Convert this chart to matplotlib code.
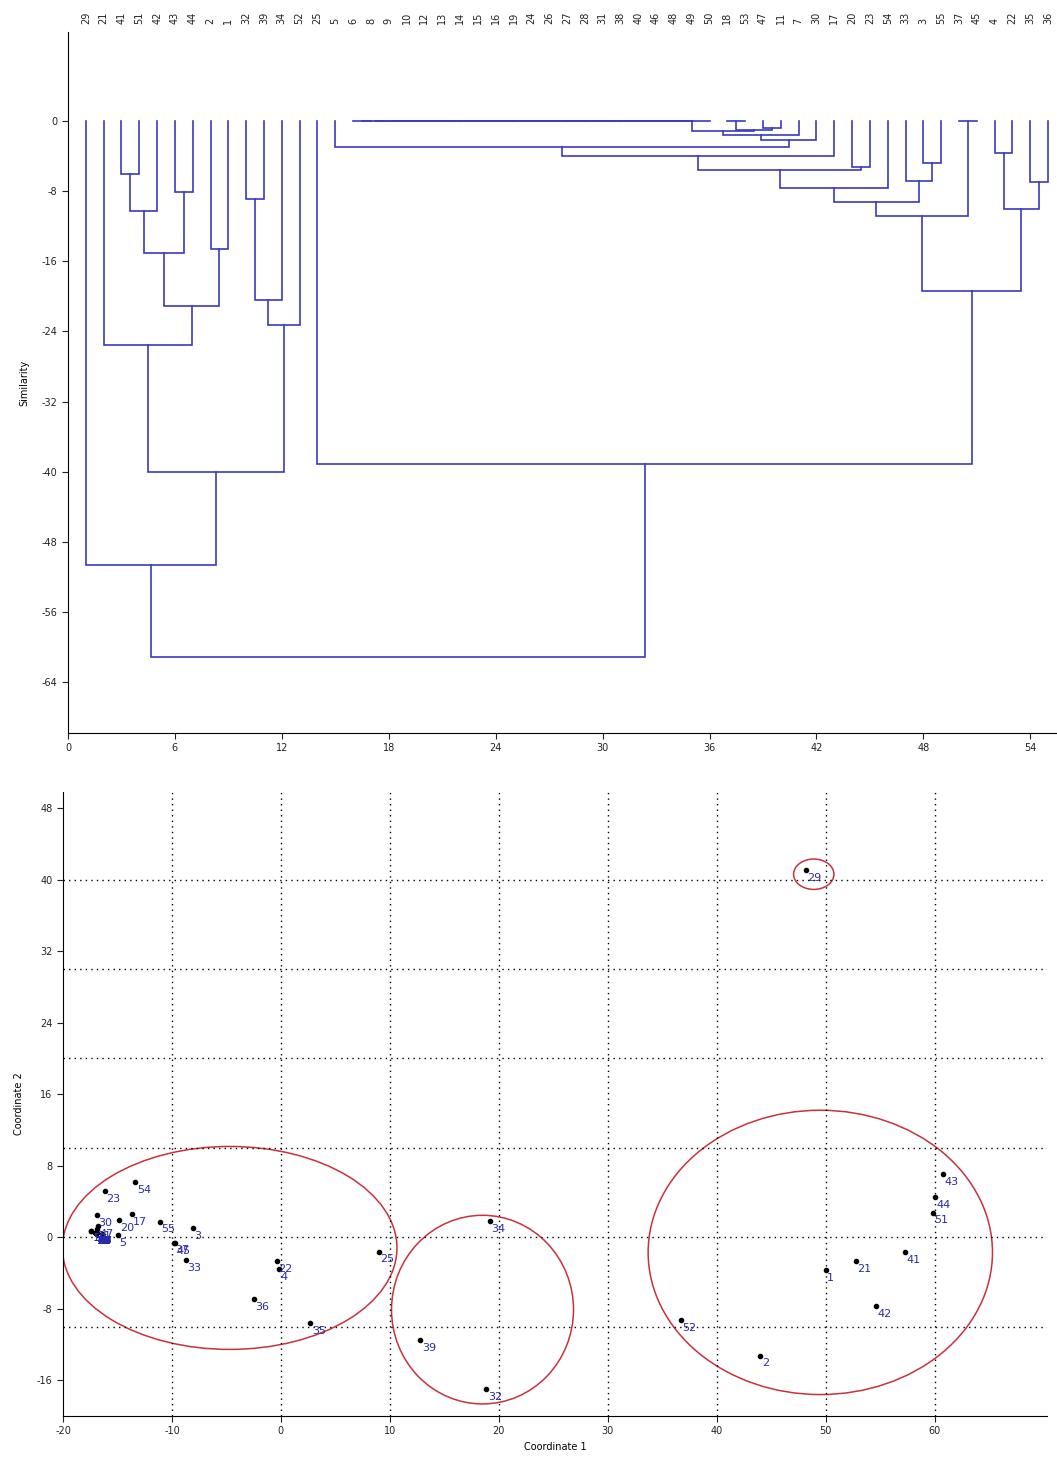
import numpy as np
import matplotlib.pyplot as plt
from matplotlib.patches import Ellipse
import matplotlib.transforms as mtransforms

plt.rcParams['font.family'] = ['Liberation Sans Narrow', 'DejaVu Sans']
plt.rcParams['axes.unicode_minus'] = False

# ---- dendrogram data ----
leaf_order = ['29', '21', '41', '51', '42', '43', '44', '2', '1', '32', '39', '34', '52', '25',
              '5', '6', '8', '9', '10', '12', '13', '14', '15', '16', '19', '24', '26', '27', '28',
              '31', '38', '40', '46', '48', '49', '50', '18', '53', '47', '11', '7', '30', '17',
              '20', '23', '54', '33', '3', '55', '37', '45', '4', '22', '35', '36']

# identical samples, joined one after the other at similarity 0
zero_chain = ['6', '8', '9', '10', '12', '13', '14', '15', '16', '19', '24', '26', '27', '28',
              '31', '38', '40', '46', '48', '49', '50']

# (new cluster, child a, child b, similarity)
merges = [
    ('a', '41', '51', -6.0),
    ('b', 'a', '42', -10.3),
    ('c', '43', '44', -8.1),
    ('d', 'b', 'c', -15.1),
    ('e', '2', '1', -14.6),
    ('f', 'd', 'e', -21.1),
    ('g', '21', 'f', -25.5),
    ('h', '32', '39', -8.9),
    ('i', 'h', '34', -20.4),
    ('j', 'i', '52', -23.3),
    ('k', 'g', 'j', -40.0),
    ('l', '29', 'k', -50.7),
    ('B', '18', '53', 0.0),
    ('C', '47', '11', -0.75),
    ('D', 'B', 'C', -1.0),
    ('E', 'A', 'D', -1.2),
    ('F', 'E', '7', -1.6),
    ('G', 'F', '30', -2.2),
    ('H', '5', 'G', -3.0),
    ('I', 'H', '17', -4.0),
    ('J', '20', '23', -5.2),
    ('K', 'I', 'J', -5.65),
    ('L', 'K', '54', -7.7),
    ('M', '3', '55', -4.8),
    ('N', '33', 'M', -6.8),
    ('O', 'L', 'N', -9.3),
    ('P', '37', '45', 0.0),
    ('Q', 'O', 'P', -10.9),
    ('R', '4', '22', -3.7),
    ('S', '35', '36', -7.0),
    ('T', 'R', 'S', -10.1),
    ('U', 'Q', 'T', -19.4),
    ('V', '25', 'U', -39.1),
    ('root', 'l', 'V', -61.1),
]

# ---- ordination data ----
pt_labels = ['29', '43', '44', '51', '41', '21', '1', '42', '52', '2',
             '34', '39', '32', '25', '22', '4', '36', '35', '33', '3',
             '55', '37', '45', '17', '20', '5', '30', '23', '54', '7',
             '18', '53', '47', '11'] + zero_chain
pt_x = [48.2, 60.8, 60.0, 59.85, 57.25, 52.75, 50.0, 54.65, 36.7, 44.0,
        19.15, 12.8, 18.85, 9.0, -0.35, -0.2, -2.45, 2.7, -8.75, -8.1,
        -11.1, -9.8, -9.75, -13.7, -14.85, -14.95, -16.9, -16.15, -13.35, -16.4,
        -17.4, -17.4, -16.8, -16.9] + [-17.0] * len(zero_chain)
pt_y = [41.1, 7.1, 4.5, 2.75, -1.7, -2.7, -3.65, -7.7, -9.3, -13.25,
        1.8, -11.5, -17.0, -1.6, -2.7, -3.55, -6.95, -9.65, -2.55, 1.0,
        1.75, -0.6, -0.7, 2.6, 1.9, 0.25, 2.45, 5.15, 6.15, 0.4,
        0.75, 0.75, 1.2, 0.95] + [0.5] * len(zero_chain)

# groups circled on the ordination: centre x, centre y, width, height
ell_cx = [48.9, -4.7, 18.5, 49.5]
ell_cy = [40.6, -1.2, -8.1, -1.7]
ell_w = [3.7, 30.7, 16.7, 31.6]
ell_h = [3.4, 22.7, 21.1, 31.8]

line_blue = '#3a3ac0'
label_blue = '#2a2aa8'
ring_red = '#c8323c'

fig = plt.figure(figsize=(10.57, 14.58), dpi=100)

# ---------- dendrogram ----------
ax1 = fig.add_axes([0.0643, 0.4973, 0.9357, 0.4808])
pos = {}
hgt = {}
for i, lab in enumerate(leaf_order):
    pos[lab] = i + 1
    hgt[lab] = 0.0

chain = []
prev = zero_chain[0]
for n, lab in enumerate(zero_chain[1:]):
    name = 'z%d' % n
    chain.append((name, prev, lab, 0.0))
    prev = name
chain[-1] = ('A',) + chain[-1][1:]

for name, ca, cb, h in chain + merges:
    xa, xb = pos[ca], pos[cb]
    ax1.plot([xa, xa, xb, xb], [hgt[ca], h, h, hgt[cb]], color=line_blue, lw=1.2,
             solid_joinstyle='miter')
    pos[name] = (xa + xb) / 2.0
    hgt[name] = h

trans = mtransforms.blended_transform_factory(ax1.transData, ax1.transAxes)
for i, lab in enumerate(leaf_order):
    ax1.text(i + 1, 1.012, lab, transform=trans, rotation=90, ha='center', va='bottom',
             fontsize=7, color='#222222')

ax1.set_xlim(0, 55.5)
ax1.set_ylim(-69.8, 10.15)
ax1.set_xticks(np.arange(0, 55, 6))
ax1.set_yticks(np.arange(0, -65, -8))
ax1.spines['top'].set_visible(False)
ax1.spines['right'].set_visible(False)
ax1.tick_params(labelsize=7, length=4, width=0.8, colors='#222222')
ax1.set_ylabel('Similarity', fontsize=7, labelpad=9)

# ---------- ordination ----------
ax2 = fig.add_axes([0.0596, 0.0288, 0.9309, 0.428])
for v in np.arange(-10, 70, 10):
    ax2.axvline(v, color='black', ls=(0, (1, 3)), lw=1)
for v in np.arange(-10, 50, 10):
    ax2.axhline(v, color='black', ls=(0, (1, 3)), lw=1)

for cx, cy, w, h in zip(ell_cx, ell_cy, ell_w, ell_h):
    ax2.add_patch(Ellipse((cx, cy), w, h, fill=False, edgecolor=ring_red, lw=1.1))

ax2.scatter(pt_x, pt_y, s=9, color='black', zorder=3)
for lab, x, y in zip(pt_labels, pt_x, pt_y):
    ax2.annotate(lab, (x, y), xytext=(1, -2), textcoords='offset points', ha='left', va='top',
                 fontsize=8, color=label_blue, family=['DejaVu Sans'])

ax2.set_xlim(-20, 70.3)
ax2.set_ylim(-20, 49.8)
ax2.set_xticks(np.arange(-20, 61, 10))
ax2.set_yticks(np.arange(-16, 49, 8))
ax2.spines['top'].set_visible(False)
ax2.spines['right'].set_visible(False)
ax2.tick_params(labelsize=7, length=4, width=0.8, colors='#222222')
ax2.set_xlabel('Coordinate 1', fontsize=7)
ax2.set_ylabel('Coordinate 2', fontsize=7, labelpad=9)

fig.savefig('out.png', dpi=100)
